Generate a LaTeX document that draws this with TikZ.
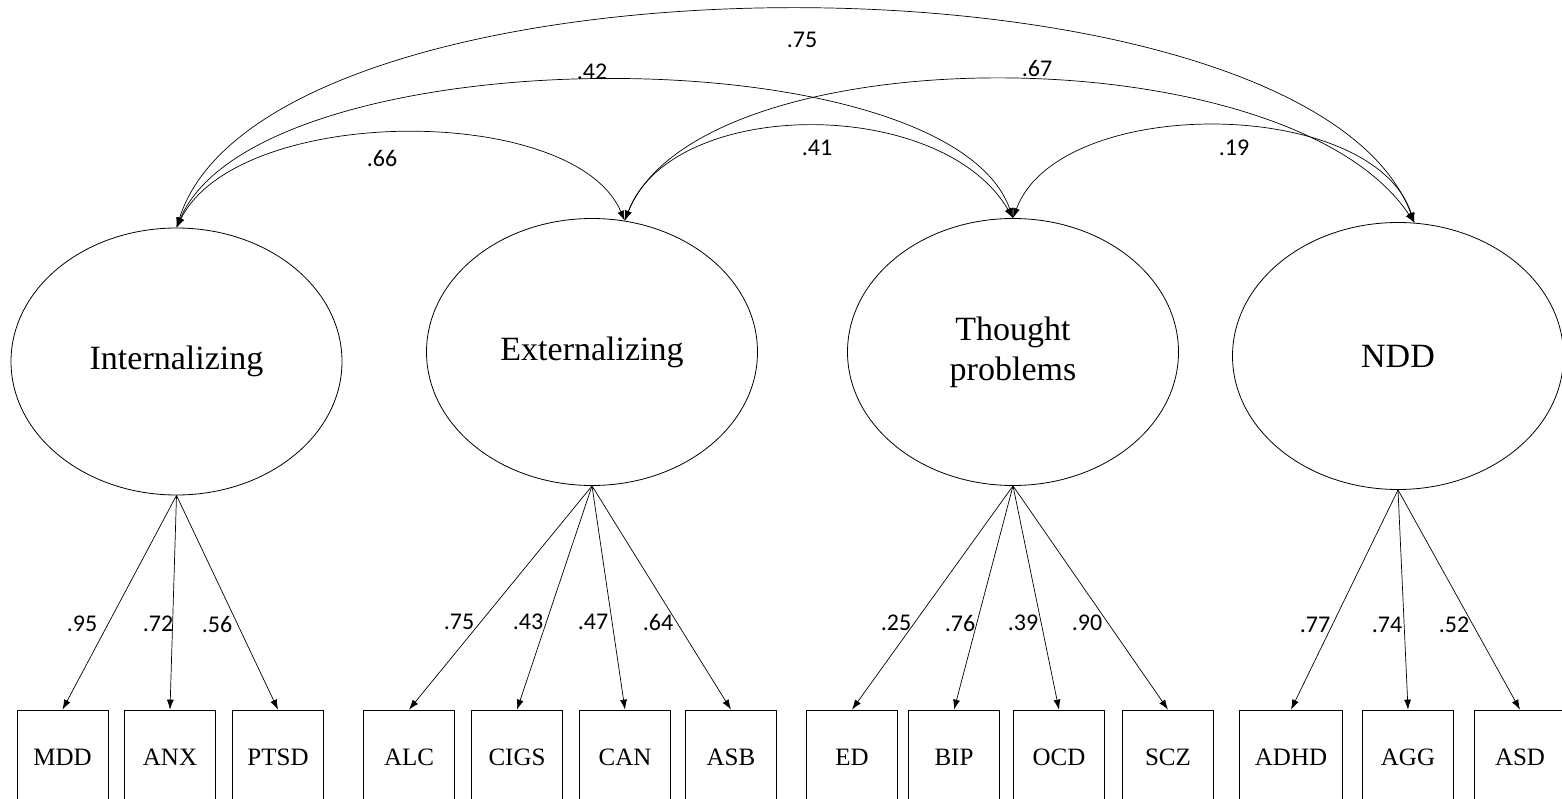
\documentclass[tikz,border=0pt]{standalone}
\usepackage{fontspec}
\setmainfont{Liberation Serif}
\newfontfamily\numfont{Carlito}
\usetikzlibrary{shapes.geometric,arrows.meta}

\begin{document}
\begin{tikzpicture}[x=1pt,y=-1pt,
  factor/.style={draw,ellipse,line width=0.8pt,minimum width=331pt,minimum height=267pt,
    inner sep=0pt,align=center,font=\fontsize{34}{40}\selectfont},
  indic/.style={draw,line width=0.7pt,minimum width=91pt,minimum height=94pt,
    inner sep=0pt,font=\fontsize{25}{30}\selectfont},
  load/.style={line width=0.7pt,-{Latex[length=10pt,width=7pt]}},
  corr/.style={line width=0.7pt,{Latex[length=10pt,width=7pt]}-{Latex[length=10pt,width=7pt]}},
  coef/.style={inner sep=0pt,font=\numfont\fontsize{24}{28}\selectfont}]
\clip (0,0) rectangle (1562,799);

% latent factors
\node[factor] (int) at (176.5,361.5) {\raisebox{-5pt}{Internalizing}};
\node[factor] (ext) at (592,352) {Externalizing};
\node[factor] (thp) at (1013,352) {Thought\\problems};
\node[factor] (ndd) at (1398,356) {NDD};

% indicators
\node[indic] (mdd) at (62.5,757) {MDD};
\node[indic] (anx) at (170,757) {ANX};
\node[indic] (ptsd) at (278,757) {PTSD};
\node[indic] (alc) at (409,757) {ALC};
\node[indic] (cigs) at (517,757) {CIGS};
\node[indic] (can) at (625,757) {CAN};
\node[indic] (asb) at (731,757) {ASB};
\node[indic] (ed) at (852,757) {ED};
\node[indic] (bip) at (954,757) {BIP};
\node[indic] (ocd) at (1059,757) {OCD};
\node[indic] (scz) at (1168,757) {SCZ};
\node[indic,minimum width=103pt] (adhd) at (1291,757) {ADHD};
\node[indic] (agg) at (1408,757) {AGG};
\node[indic] (asd) at (1520,757) {ASD};

% loadings
\foreach \ind/\lx/\lv in {mdd/82/.95,anx/158/.72,ptsd/217/.56}{
  \draw[load] (int.south) -- (\ind.north);
  \node[coef] (l\ind) at (\lx,624) {\lv};
}
\foreach \ind/\lx/\lv in {alc/459/.75,cigs/528/.43,can/593/.47,asb/658/.64}{
  \draw[load] (ext.south) -- (\ind.north);
  \node[coef] (l\ind) at (\lx,622) {\lv};
}
\foreach \ind/\lx/\lv in {ed/896/.25,bip/960/.76,ocd/1023/.39,scz/1087/.90}{
  \draw[load] (thp.south) -- (\ind.north);
  \node[coef] (l\ind) at (\lx,623) {\lv};
}
\foreach \ind/\lx/\lv in {adhd/1315/.77,agg/1387/.74,asd/1454/.52}{
  \draw[load] (ndd.south) -- (\ind.north);
  \node[coef] (l\ind) at (\lx,625) {\lv};
}

% correlations
\draw[corr] (int.north) .. controls +(62,-124) and +(-50,-118) .. (ext.76);
\draw[corr] (int.north) .. controls +(82,-193) and +(-66,-186) .. (thp.north);
\draw[corr] (int.north) .. controls +(92,-289) and +(-107,-285) .. (ndd.83);
\draw[corr] (ext.76) .. controls +(47,-124) and +(-72,-123) .. (thp.north);
\draw[corr] (ext.76) .. controls +(75,-188) and +(-126,-190) .. (ndd.83);
\draw[corr] (thp.north) .. controls +(46,-124) and +(-42,-127) .. (ndd.83);

\node[coef] (r1) at (382,158) {.66};
\node[coef] (r2) at (592,72) {.42};
\node[coef] (r3) at (802,40) {.75};
\node[coef] (r4) at (817,148) {.41};
\node[coef] (r5) at (1037,68) {.67};
\node[coef] (r6) at (1234,148) {.19};
\end{tikzpicture}
\end{document}
